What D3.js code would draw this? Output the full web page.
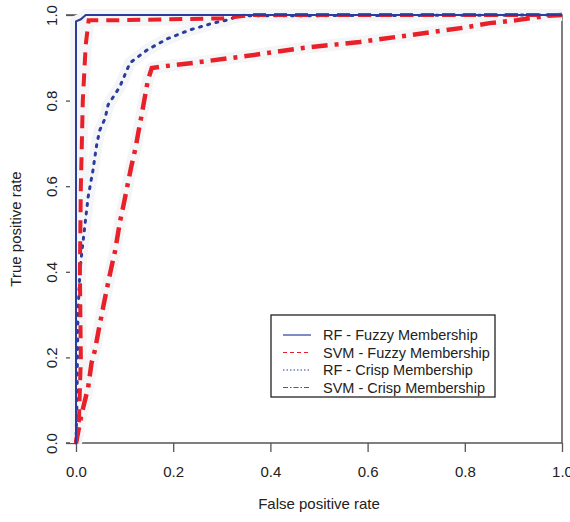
<!DOCTYPE html>
<html>
<head>
<meta charset="utf-8">
<script src="https://cdn.jsdelivr.net/npm/d3@7"></script>
<style>
  body { margin: 0; background: #fff; }
  text { font-family: "Liberation Sans", Arial, sans-serif; fill: #222; }
</style>
</head>
<body>
<div id="roc"></div>
<script>

//********************* DATA ************************************

// [false positive rate, true positive rate]
var rfFuzzy = [[0, 0], [0, 0.985], [0.01, 0.99], [0.02, 1], [1, 1]];

var svmFuzzy = [[0, 0], [0.006, 0.05], [0.01, 0.2], [0.008, 0.4], [0.01, 0.6],
                [0.014, 0.8], [0.02, 0.93], [0.026, 0.988], [0.1, 0.988],
                [0.3, 0.992], [0.36, 1], [1, 1]];

var rfCrisp = [[0, 0], [0.002, 0.1], [0.003, 0.2], [0.004, 0.3], [0.008, 0.4],
               [0.012, 0.446], [0.025, 0.575], [0.035, 0.638], [0.043, 0.70],
               [0.049, 0.731], [0.06, 0.759], [0.066, 0.79], [0.09, 0.832],
               [0.111, 0.888], [0.146, 0.918], [0.187, 0.944], [0.234, 0.965],
               [0.282, 0.981], [0.31, 0.988], [0.337, 0.998], [1, 1]];

var svmCrisp = [[0, 0], [0.012, 0.07], [0.025, 0.13], [0.032, 0.187], [0.039, 0.217],
                [0.046, 0.26], [0.056, 0.318], [0.068, 0.385], [0.077, 0.432],
                [0.08, 0.446], [0.09, 0.514], [0.1, 0.568], [0.113, 0.642],
                [0.123, 0.692], [0.128, 0.724], [0.135, 0.766], [0.148, 0.848],
                [0.156, 0.876], [0.173, 0.879], [0.24, 0.888], [0.35, 0.904],
                [0.467, 0.923], [0.584, 0.937], [0.687, 0.953], [0.796, 0.97],
                [0.851, 0.981], [0.907, 0.988], [0.968, 0.998], [1, 1]];

var xTicks = [0, 0.2, 0.4, 0.6, 0.8, 1.0];
var yTicks = [0, 0.2, 0.4, 0.6, 0.8, 1.0];

var legendLabels = ["RF - Fuzzy Membership", "SVM - Fuzzy Membership",
                    "RF - Crisp Membership", "SVM - Crisp Membership"];


//********************* DIMENSIONS ************************************

var margin = {top: 15, right: 8, bottom: 79, left: 76},
    width = 570 - margin.left - margin.right,
    height = 522 - margin.top - margin.bottom;

var red = "#e8202a",
    blue = "#2b3b9e",
    axisColor = "#555";

var xScale = d3.scaleLinear().domain([0, 1]).range([0, width]);
var yScale = d3.scaleLinear().domain([0, 1]).range([height, 0]);

var line = d3.line()
    .x(function(d) { return xScale(d[0]); })
    .y(function(d) { return yScale(d[1]); });

var svg = d3.select("#roc").append("svg")
    .attr("width", 570)
    .attr("height", 522)
  .append("g")
    .attr("transform", "translate(" + margin.left + "," + margin.top + ")");


//********************* FRAME & AXES ************************************

// box (left edge is hidden behind the curves, top and bottom run out to the ticks)
svg.append("path")
    .attr("d", "M-10,0H" + width + "V" + height + "H-10")
    .attr("fill", "none")
    .attr("stroke", axisColor)
    .attr("stroke-width", 1.5);
svg.append("line")
    .attr("x1", 0).attr("x2", 0).attr("y1", 0).attr("y2", height)
    .attr("stroke", axisColor).attr("stroke-width", 1.5);

var xAxis = svg.append("g")
    .attr("transform", "translate(0," + height + ")")
    .call(d3.axisBottom(xScale).tickValues(xTicks).tickSize(9).tickPadding(14)
          .tickFormat(d3.format(".1f")));

var yAxis = svg.append("g")
    .call(d3.axisLeft(yScale).tickValues(yTicks).tickSize(10)
          .tickFormat(d3.format(".1f")));

[xAxis, yAxis].forEach(function(ax) {
  ax.select(".domain").remove();
  ax.selectAll("line").attr("stroke", axisColor).attr("stroke-width", 1.3);
  ax.selectAll("text").style("font-size", "15px").attr("fill", "#222");
});

yAxis.selectAll("text")
    .attr("transform", "rotate(-90)")
    .attr("x", 0)
    .attr("y", -24)
    .attr("dy", "0.35em")
    .attr("text-anchor", "middle");

svg.append("text")
    .attr("x", width / 2)
    .attr("y", height + 66)
    .attr("text-anchor", "middle")
    .style("font-size", "15px")
    .text("False positive rate");

svg.append("text")
    .attr("transform", "translate(" + (16 - margin.left) + "," + (height / 2) + ") rotate(-90)")
    .attr("dy", "0.35em")
    .attr("text-anchor", "middle")
    .style("font-size", "15px")
    .text("True positive rate");


//********************* CURVES ************************************

var curves = [
  {data: svmCrisp, color: red,  width: 4.5, dash: "16,7,4,7", cap: "butt"},
  {data: rfCrisp,  color: blue, width: 3,   dash: "2,6.5",    cap: "round"},
  {data: svmFuzzy, color: red,  width: 4,   dash: "13,8",     cap: "butt"},
  {data: rfFuzzy,  color: blue, width: 2,   dash: null,       cap: "butt"}
];

// faint grey halo left around the curves in the original scan
curves.forEach(function(c) {
  svg.append("path")
      .datum(c.data)
      .attr("d", line)
      .attr("fill", "none")
      .attr("stroke", "#f4f5f6")
      .attr("stroke-width", 12)
      .attr("stroke-linejoin", "round");
});

curves.forEach(function(c) {
  svg.append("path")
      .datum(c.data)
      .attr("d", line)
      .attr("fill", "none")
      .attr("stroke", c.color)
      .attr("stroke-width", c.width)
      .attr("stroke-linecap", c.cap)
      .attr("stroke-dasharray", c.dash);
});


//********************* LEGEND ************************************

var legendStyles = [
  {color: blue, dash: null},
  {color: red,  dash: "4,3"},
  {color: blue, dash: "1.5,2"},
  {color: red,  dash: "5,2,1.5,2"}
];

var legend = svg.append("g")
    .attr("transform", "translate(" + (271 - margin.left) + "," + (315 - margin.top) + ")");

legend.append("rect")
    .attr("width", 224)
    .attr("height", 82)
    .attr("fill", "#fff")
    .attr("stroke", "#222")
    .attr("stroke-width", 1.3);

var rows = legend.selectAll(".row")
    .data(legendLabels)
  .enter().append("g")
    .attr("class", "row")
    .attr("transform", function(d, i) { return "translate(0," + (20 + i * 17.5) + ")"; });

rows.append("line")
    .attr("x1", 12).attr("x2", 40)
    .attr("stroke", function(d, i) { return legendStyles[i].color; })
    .attr("stroke-width", 1.2)
    .attr("stroke-dasharray", function(d, i) { return legendStyles[i].dash; });

rows.append("text")
    .attr("x", 52)
    .attr("dy", "0.35em")
    .style("font-size", "14.5px")
    .text(function(d) { return d; });

</script>
</body>
</html>
